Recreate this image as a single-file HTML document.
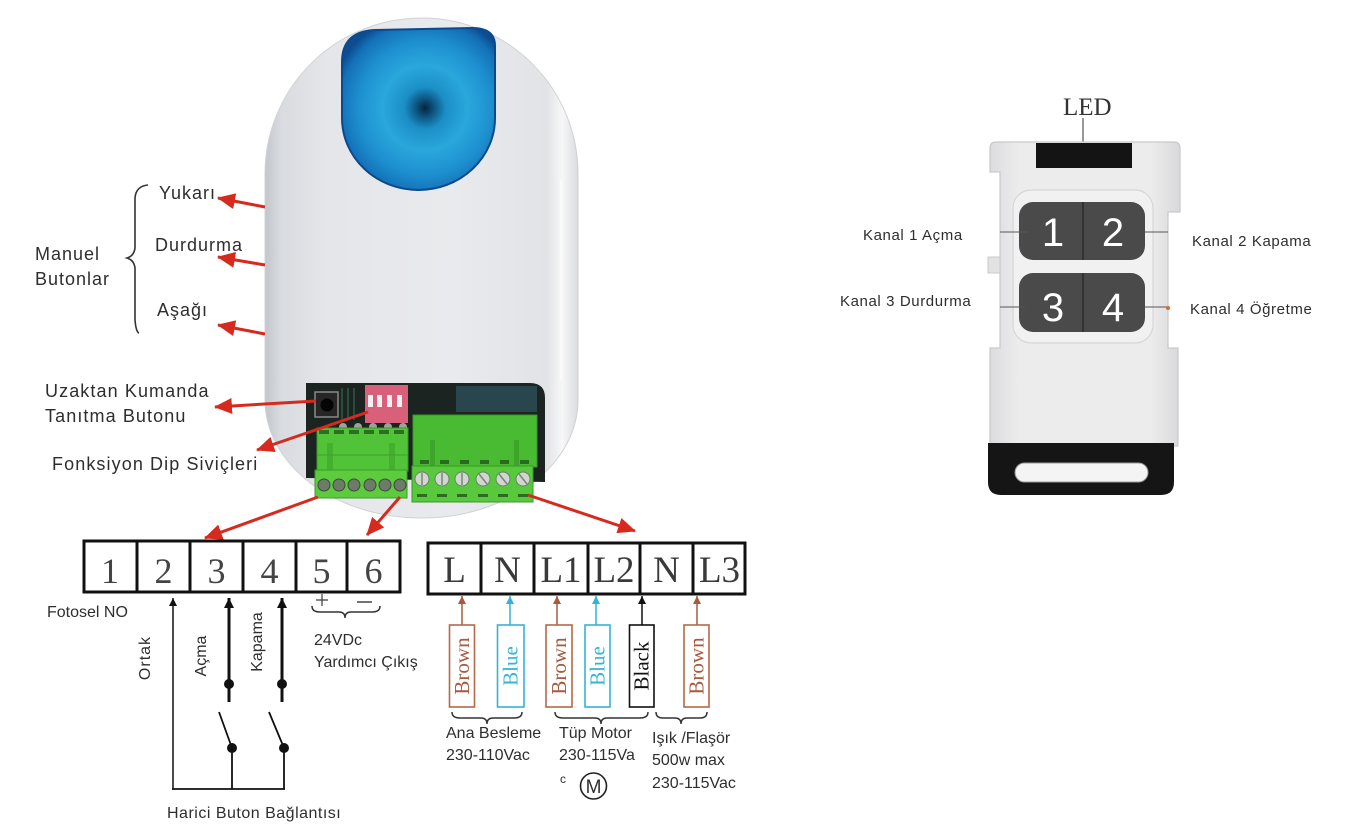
<!DOCTYPE html>
<html><head><meta charset="utf-8">
<style>
html,body{margin:0;padding:0;background:#fff;}
svg{display:block;}
text{font-family:"Liberation Sans",Arial,sans-serif;fill:#2e2e2e;}
.s{font-family:"Liberation Serif",serif;}
</style></head><body>
<svg width="1359" height="837" viewBox="0 0 1359 837" xmlns="http://www.w3.org/2000/svg">
<defs>
 <linearGradient id="bodyG" x1="265" x2="578" y1="0" y2="0" gradientUnits="userSpaceOnUse">
  <stop offset="0" stop-color="#c2c6cc"/>
  <stop offset="0.05" stop-color="#d8dbdf"/>
  <stop offset="0.2" stop-color="#e5e6e9"/>
  <stop offset="0.6" stop-color="#e9eaed"/>
  <stop offset="0.9" stop-color="#e2e3e6"/>
  <stop offset="0.95" stop-color="#f7f7f8"/>
  <stop offset="1" stop-color="#d9dbde"/>
 </linearGradient>
 <radialGradient id="capG" cx="425" cy="108" r="95" gradientUnits="userSpaceOnUse">
  <stop offset="0" stop-color="#06263d"/>
  <stop offset="0.1" stop-color="#0e5683"/>
  <stop offset="0.22" stop-color="#1b8fc6"/>
  <stop offset="0.45" stop-color="#2aa7dc"/>
  <stop offset="0.7" stop-color="#1d90cf"/>
  <stop offset="0.9" stop-color="#1470b8"/>
  <stop offset="1" stop-color="#0c4c90"/>
 </radialGradient>
 <linearGradient id="remG" x1="0" x2="1" y1="0" y2="0">
  <stop offset="0" stop-color="#dcdcde"/>
  <stop offset="0.15" stop-color="#ececed"/>
  <stop offset="0.85" stop-color="#ececed"/>
  <stop offset="1" stop-color="#d8d8da"/>
 </linearGradient>
 <marker id="ra" markerUnits="userSpaceOnUse" markerWidth="18" markerHeight="16" refX="17" refY="8" orient="auto"><path d="M0,0 L18,8 L0,16 Z" fill="#d62a1e"/></marker>
 <marker id="kb" markerUnits="userSpaceOnUse" markerWidth="8" markerHeight="8" refX="8" refY="4" orient="auto"><path d="M0,0 L8,4 L0,8 Z" fill="#111"/></marker>
 <marker id="kt" markerUnits="userSpaceOnUse" markerWidth="10" markerHeight="10" refX="10" refY="5" orient="auto"><path d="M0,0 L10,5 L0,10 Z" fill="#111"/></marker>
 <marker id="mb" markerUnits="userSpaceOnUse" markerWidth="8" markerHeight="8" refX="8" refY="4" orient="auto"><path d="M0,0 L8,4 L0,8 Z" fill="#a85a3c"/></marker>
 <marker id="mu" markerUnits="userSpaceOnUse" markerWidth="8" markerHeight="8" refX="8" refY="4" orient="auto"><path d="M0,0 L8,4 L0,8 Z" fill="#35b3d6"/></marker>
</defs>

<!-- ===== Device body ===== -->
<path d="M265,174 A156.5,156 0 0 1 578,174 L578,400 A156.5,118 0 0 1 265,400 Z" fill="url(#bodyG)" stroke="#cfd2d6" stroke-width="1"/>
<line x1="561" y1="180" x2="561" y2="380" stroke="#fafafa" stroke-width="3"/>

<!-- Blue cap -->
<path d="M342,62 Q342,32 374,30 L472,28 Q495,28 495,46 L495,118 A76.5,72 0 0 1 342,118 Z" fill="url(#capG)" stroke="#0b4a8a" stroke-width="2"/>

<!-- PCB window -->
<path d="M306,383 L530,383 Q545,383 545,398 L545,482 L306,478 Z" fill="#1b2420"/>
<rect x="456" y="386" width="81" height="26" fill="#2b4b57" opacity="0.85"/>
<line x1="342" y1="388" x2="342" y2="420" stroke="#2f5a44" stroke-width="1.5"/>
<line x1="348" y1="388" x2="348" y2="420" stroke="#2f5a44" stroke-width="1.5"/>
<line x1="354" y1="388" x2="354" y2="420" stroke="#2f5a44" stroke-width="1.5"/>
<!-- tact button -->
<rect x="315" y="392" width="23" height="25" fill="#262626" stroke="#8a8a8a" stroke-width="1.5"/>
<circle cx="327" cy="405" r="6.5" fill="#050505"/>
<!-- DIP -->
<rect x="365" y="385" width="43" height="38" fill="#d9607a"/>
<rect x="368" y="395" width="5" height="12" fill="#f4f0f2"/>
<rect x="377" y="395" width="5" height="12" fill="#f4f0f2"/>
<rect x="387" y="395" width="5" height="12" fill="#f4f0f2"/>
<rect x="397" y="395" width="5" height="12" fill="#f4f0f2"/>
<!-- pins -->
<circle cx="343" cy="427" r="4" fill="#9aa39c"/>
<circle cx="358" cy="427" r="4" fill="#9aa39c"/>
<circle cx="373" cy="427" r="4" fill="#9aa39c"/>
<circle cx="388" cy="427" r="4" fill="#9aa39c"/>
<circle cx="403" cy="427" r="4" fill="#9aa39c"/>

<!-- Left green terminal -->
<rect x="317" y="428" width="91" height="43" fill="#50c338" stroke="#3b9a29" stroke-width="1"/>
<g fill="#2d6e22">
 <rect x="319" y="430" width="10" height="4"/><rect x="334" y="430" width="10" height="4"/><rect x="349" y="430" width="10" height="4"/>
 <rect x="364" y="430" width="10" height="4"/><rect x="379" y="430" width="10" height="4"/><rect x="394" y="430" width="10" height="4"/>
</g>
<rect x="327" y="443" width="6" height="27" fill="#45b030"/>
<rect x="389" y="443" width="6" height="27" fill="#45b030"/>
<line x1="317" y1="455" x2="408" y2="455" stroke="#3f9e2c" stroke-width="1"/>
<rect x="315" y="470" width="92" height="28" fill="#5ccc3e" stroke="#3b9a29" stroke-width="1"/>
<g fill="#6d7b68" stroke="#3e4a3c" stroke-width="1">
 <circle cx="324" cy="485" r="6"/><circle cx="339" cy="485" r="6"/><circle cx="354" cy="485" r="6"/>
 <circle cx="370" cy="485" r="6"/><circle cx="385" cy="485" r="6"/><circle cx="400" cy="485" r="6"/>
</g>

<!-- Right green terminal -->
<rect x="413" y="415" width="124" height="52" fill="#48bb32" stroke="#3a9a28" stroke-width="1"/>
<rect x="430" y="440" width="5" height="26" fill="#3ea52b"/>
<rect x="514" y="440" width="5" height="26" fill="#3ea52b"/>
<g fill="#2c6a22">
 <rect x="420" y="460" width="9" height="4"/><rect x="440" y="460" width="9" height="4"/><rect x="460" y="460" width="9" height="4"/>
 <rect x="480" y="460" width="9" height="4"/><rect x="500" y="460" width="9" height="4"/><rect x="520" y="460" width="9" height="4"/>
</g>
<rect x="412" y="466" width="121" height="36" fill="#58c83c" stroke="#3a9a28" stroke-width="1"/>
<g fill="#cfd7cf" stroke="#6e7e6e" stroke-width="1">
 <circle cx="422" cy="479" r="7"/><circle cx="442" cy="479" r="7"/><circle cx="462" cy="479" r="7"/>
 <circle cx="483" cy="479" r="7"/><circle cx="503" cy="479" r="7"/><circle cx="523" cy="479" r="7"/>
</g>
<g stroke="#7a857a" stroke-width="1.5">
 <line x1="422" y1="473" x2="422" y2="485"/><line x1="442" y1="473" x2="442" y2="485"/><line x1="462" y1="473" x2="462" y2="485"/>
 <line x1="479" y1="474" x2="487" y2="484"/><line x1="499" y1="474" x2="507" y2="484"/><line x1="519" y1="474" x2="527" y2="484"/>
</g>
<g fill="#2c6a22">
 <rect x="417" y="494" width="10" height="3"/><rect x="437" y="494" width="10" height="3"/><rect x="457" y="494" width="10" height="3"/>
 <rect x="478" y="494" width="10" height="3"/><rect x="498" y="494" width="10" height="3"/><rect x="518" y="494" width="10" height="3"/>
</g>

<!-- ===== Red arrows ===== -->
<g stroke="#d62a1e" stroke-width="3" fill="none" marker-end="url(#ra)">
 <line x1="265" y1="207" x2="218" y2="198"/>
 <line x1="265" y1="265" x2="218" y2="257"/>
 <line x1="265" y1="334" x2="218" y2="325"/>
 <line x1="316" y1="401" x2="215" y2="407"/>
 <line x1="368" y1="412" x2="257" y2="450"/>
 <line x1="318" y1="497" x2="205" y2="538"/>
 <line x1="400" y1="497" x2="367" y2="535"/>
 <line x1="528" y1="495" x2="635" y2="531"/>
</g>

<!-- ===== Left labels ===== -->
<g font-size="18" letter-spacing="1">
 <text x="35" y="260">Manuel</text>
 <text x="35" y="285">Butonlar</text>
 <text x="159" y="199">Yukarı</text>
 <text x="155" y="251">Durdurma</text>
 <text x="157" y="316">Aşağı</text>
</g>
<g font-size="18" letter-spacing="1.1">
 <text x="45" y="397">Uzaktan Kumanda</text>
 <text x="45" y="422">Tanıtma Butonu</text>
 <text x="52" y="470">Fonksiyon Dip Siviçleri</text>
</g>
<path d="M148,185 Q136,186 135,198 L135,248 Q134,256 127,258 Q134,260 135,268 L135,320 Q136,332 139,333" fill="none" stroke="#333" stroke-width="1.6"/>

<!-- ===== Left terminal box ===== -->
<rect x="84" y="541" width="316" height="51" fill="#fff" stroke="#111" stroke-width="3"/>
<g stroke="#111" stroke-width="3">
 <line x1="137" y1="541" x2="137" y2="592"/><line x1="190" y1="541" x2="190" y2="592"/>
 <line x1="243" y1="541" x2="243" y2="592"/><line x1="296" y1="541" x2="296" y2="592"/>
 <line x1="347" y1="541" x2="347" y2="592"/>
</g>
<g class="s" font-size="36" text-anchor="middle" style="fill:#444">
 <text class="s" x="110" y="583" style="fill:#444">1</text>
 <text class="s" x="163.5" y="583" style="fill:#444">2</text>
 <text class="s" x="216.5" y="583" style="fill:#444">3</text>
 <text class="s" x="269.5" y="583" style="fill:#444">4</text>
 <text class="s" x="321.5" y="583" style="fill:#444">5</text>
 <text class="s" x="373.5" y="583" style="fill:#444">6</text>
</g>

<text x="47" y="617" font-size="16">Fotosel NO</text>

<!-- wiring left -->
<line x1="173" y1="789" x2="173" y2="598" stroke="#111" stroke-width="1.5" marker-end="url(#kb)"/>
<line x1="229" y1="702" x2="229" y2="598" stroke="#111" stroke-width="3" marker-end="url(#kt)"/>
<line x1="282" y1="702" x2="282" y2="598" stroke="#111" stroke-width="3" marker-end="url(#kt)"/>
<circle cx="229" cy="684" r="5" fill="#111"/>
<circle cx="282" cy="684" r="5" fill="#111"/>
<line x1="219" y1="712" x2="232" y2="748" stroke="#111" stroke-width="1.8"/>
<line x1="269" y1="712" x2="284" y2="748" stroke="#111" stroke-width="1.8"/>
<circle cx="232" cy="748" r="5" fill="#111"/>
<circle cx="284" cy="748" r="5" fill="#111"/>
<polyline points="232,748 232,789" fill="none" stroke="#111" stroke-width="1.8"/>
<polyline points="284,748 284,789" fill="none" stroke="#111" stroke-width="1.8"/>
<line x1="172" y1="789" x2="285" y2="789" stroke="#111" stroke-width="1.8"/>

<g font-size="16" text-anchor="middle">
 <text transform="translate(150,658) rotate(-90)" letter-spacing="1">Ortak</text>
 <text transform="translate(206,656) rotate(-90)">Açma</text>
 <text transform="translate(262,642) rotate(-90)">Kapama</text>
</g>

<!-- + / - and brace -->
<line x1="316" y1="600" x2="328" y2="600" stroke="#444" stroke-width="1.3"/>
<line x1="322" y1="594" x2="322" y2="606" stroke="#444" stroke-width="1.3"/>
<line x1="357" y1="602" x2="372" y2="602" stroke="#444" stroke-width="1.5"/>
<path d="M312,606 Q312,612 320,612 L339,612 Q345,612 345,618 Q345,612 351,612 L372,612 Q380,612 380,606" fill="none" stroke="#333" stroke-width="1.5"/>
<text x="314" y="645" font-size="16">24VDc</text>
<text x="314" y="667" font-size="16">Yardımcı Çıkış</text>

<text x="167" y="818" font-size="16" letter-spacing="0.5">Harici Buton Bağlantısı</text>

<!-- ===== Right terminal box ===== -->
<rect x="428" y="543" width="317" height="51" fill="#fff" stroke="#111" stroke-width="3"/>
<g stroke="#111" stroke-width="3">
 <line x1="481" y1="543" x2="481" y2="594"/><line x1="534" y1="543" x2="534" y2="594"/>
 <line x1="588" y1="543" x2="588" y2="594"/><line x1="640" y1="543" x2="640" y2="594"/>
 <line x1="693" y1="543" x2="693" y2="594"/>
</g>
<g font-size="37" text-anchor="middle">
 <text class="s" x="454.5" y="582" style="fill:#3a3a3a">L</text>
 <text class="s" x="507.5" y="582" style="fill:#3a3a3a">N</text>
 <text class="s" x="561" y="582" style="fill:#3a3a3a">L1</text>
 <text class="s" x="614" y="582" style="fill:#3a3a3a">L2</text>
 <text class="s" x="666.5" y="582" style="fill:#3a3a3a">N</text>
 <text class="s" x="719.5" y="582" style="fill:#3a3a3a">L3</text>
</g>

<!-- wire arrows -->
<line x1="462" y1="625" x2="462" y2="596" stroke="#a85a3c" stroke-width="1.5" marker-end="url(#mb)"/>
<line x1="510" y1="625" x2="510" y2="596" stroke="#35b3d6" stroke-width="1.5" marker-end="url(#mu)"/>
<line x1="557" y1="625" x2="557" y2="596" stroke="#a85a3c" stroke-width="1.5" marker-end="url(#mb)"/>
<line x1="596" y1="625" x2="596" y2="596" stroke="#35b3d6" stroke-width="1.5" marker-end="url(#mu)"/>
<line x1="642" y1="625" x2="642" y2="596" stroke="#111" stroke-width="1.5" marker-end="url(#kb)"/>
<line x1="697" y1="625" x2="697" y2="596" stroke="#a85a3c" stroke-width="1.5" marker-end="url(#mb)"/>

<!-- wire boxes -->
<rect x="449.5" y="625" width="25" height="82" fill="#fff" stroke="#b5694a" stroke-width="1.6"/>
<rect x="497.5" y="625" width="26.5" height="82" fill="#fff" stroke="#35b3d6" stroke-width="1.6"/>
<rect x="546" y="625" width="26" height="82" fill="#fff" stroke="#b5694a" stroke-width="1.6"/>
<rect x="585" y="625" width="25" height="82" fill="#fff" stroke="#35b3d6" stroke-width="1.6"/>
<rect x="629.5" y="625" width="24.5" height="82" fill="#fff" stroke="#111" stroke-width="1.6"/>
<rect x="684" y="625" width="25" height="82" fill="#fff" stroke="#b5694a" stroke-width="1.6"/>
<g font-size="21" text-anchor="middle" dominant-baseline="central">
 <text class="s" transform="translate(462,666) rotate(-90)" style="fill:#a85a3c">Brown</text>
 <text class="s" transform="translate(510.7,666) rotate(-90)" style="fill:#35b3d6">Blue</text>
 <text class="s" transform="translate(559,666) rotate(-90)" style="fill:#a85a3c">Brown</text>
 <text class="s" transform="translate(597.5,666) rotate(-90)" style="fill:#35b3d6">Blue</text>
 <text class="s" transform="translate(641.7,666) rotate(-90)" style="fill:#111">Black</text>
 <text class="s" transform="translate(696.5,666) rotate(-90)" style="fill:#a85a3c">Brown</text>
</g>

<!-- braces under wires -->
<g fill="none" stroke="#333" stroke-width="1.5">
 <path d="M452,712 Q452,718 460,718 L481,718 Q487,718 487,724 Q487,718 493,718 L514,718 Q522,718 522,712"/>
 <path d="M555,712 Q555,718 563,718 L595,718 Q601,718 601,724 Q601,718 607,718 L640,718 Q648,718 648,712"/>
 <path d="M656,712 Q656,718 663,718 L675,718 Q681,718 681,724 Q681,718 687,718 L700,718 Q707,718 707,712"/>
</g>

<g font-size="16">
 <text x="446" y="738">Ana Besleme</text>
 <text x="446" y="760">230-110Vac</text>
 <text x="559" y="738">Tüp Motor</text>
 <text x="559" y="760">230-115Va</text>
 <text x="560" y="783" font-size="12">c</text>
 <text x="652" y="743">Işık /Flaşör</text>
 <text x="652" y="765">500w max</text>
 <text x="652" y="788">230-115Vac</text>
</g>
<circle cx="593.5" cy="786" r="13" fill="none" stroke="#222" stroke-width="1.6"/>
<text x="593.5" y="793" font-size="19" text-anchor="middle">M</text>

<!-- ===== Remote ===== -->
<text class="s" x="1063" y="115" font-size="25" style="fill:#333">LED</text>
<line x1="1083" y1="118" x2="1083" y2="143" stroke="#555" stroke-width="1.2"/>

<path d="M996,142 L1174,142 Q1180,142 1180,148 L1180,212 L1168,212 L1168,348 L1178,348 L1178,446 L990,446 L990,348 L1000,348 L1000,172 L990,172 L990,148 Q990,142 996,142 Z" fill="url(#remG)" stroke="#c9c9cb" stroke-width="1.2"/>
<rect x="988" y="257" width="12" height="16" fill="#e2e2e3" stroke="#c9c9cb" stroke-width="1"/>
<rect x="1036" y="143" width="96" height="25" fill="#141414"/>
<rect x="1013" y="190" width="140" height="153" rx="18" fill="#f1f1f2" stroke="#d6d6d8" stroke-width="1.2"/>
<rect x="1019" y="202" width="126" height="58" rx="14" fill="#4a4a4a"/>
<rect x="1019" y="273" width="126" height="59" rx="14" fill="#4a4a4a"/>
<line x1="1083" y1="202" x2="1083" y2="260" stroke="#2a2a2a" stroke-width="1.5"/>
<line x1="1083" y1="273" x2="1083" y2="332" stroke="#2a2a2a" stroke-width="1.5"/>
<g font-size="40" text-anchor="middle">
 <text x="1053" y="246" style="fill:#fff">1</text>
 <text x="1113" y="246" style="fill:#fff">2</text>
 <text x="1053" y="321" style="fill:#fff">3</text>
 <text x="1113" y="321" style="fill:#fff">4</text>
</g>
<path d="M988,443 L1174,443 L1174,482 Q1174,495 1161,495 L1001,495 Q988,495 988,482 Z" fill="#151515"/>
<rect x="1015" y="463" width="133" height="19" rx="9.5" fill="#f4f4f4" stroke="#9a9a9a" stroke-width="1"/>

<!-- leader lines -->
<g stroke="#555" stroke-width="1">
 <line x1="1000" y1="232" x2="1028" y2="232"/>
 <line x1="1145" y1="232" x2="1168" y2="232"/>
 <line x1="1000" y1="307" x2="1025" y2="307"/>
 <line x1="1145" y1="307" x2="1168" y2="307"/>
</g>
<circle cx="1168" cy="308" r="2" fill="#d07030"/>
<g font-size="15" letter-spacing="0.6">
 <text x="863" y="240">Kanal 1 Açma</text>
 <text x="1192" y="246">Kanal 2 Kapama</text>
 <text x="840" y="306">Kanal 3 Durdurma</text>
 <text x="1190" y="314">Kanal 4 Öğretme</text>
</g>
</svg>
</body></html>
